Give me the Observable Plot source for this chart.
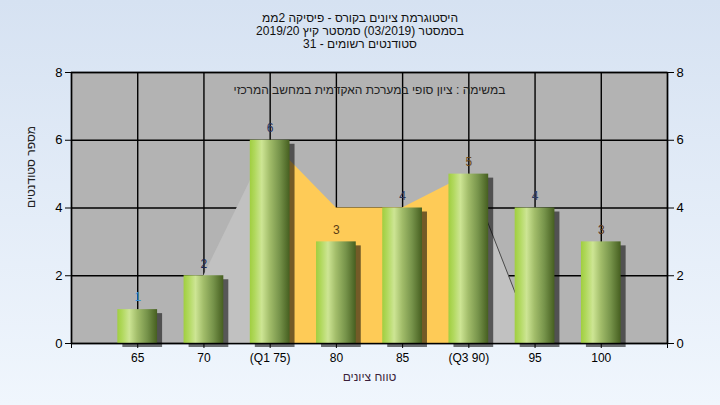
<!DOCTYPE html>
<html>
<head>
<meta charset="utf-8">
<script src="https://cdn.jsdelivr.net/npm/d3@7"></script>
<script src="https://cdn.jsdelivr.net/npm/@observablehq/plot@0.6"></script>
<style>
  html, body { margin: 0; padding: 0; }
  body { width: 720px; height: 405px; overflow: hidden;
         background: linear-gradient(#d6e2f2, #f0f6fd);
         font-family: "Liberation Sans", Arial, sans-serif; }
  #title { height: 55px; box-sizing: border-box; padding-top: 12px;
           text-align: center; font-size: 12px; line-height: 13px; color: #111; direction: rtl; }
</style>
</head>
<body>
<div id="title"></div>
<div id="chart"></div>
<script>
const titleLines = [
  "היסטוגרמת ציונים בקורס - פיסיקה 2ממ",
  "בסמסטר  (03/2019)  סמסטר קיץ 2019/20",
  "סטודנטים רשומים - 31"
];
const innerTitle = "במשימה : ציון סופי במערכת האקדמית במחשב המרכזי";
const xTitle = "טווח ציונים";
const yTitle = "מספר סטודנטים";

const categories = [65, 70, 75, 80, 85, 90, 95, 100];
const tickLabels = ["65", "70", "(Q1 75)", "80", "85", "(Q3 90)", "95", "100"];
const counts = [1, 2, 6, 3, 4, 5, 4, 3];
const labelColors = ["#3b8fd0", "#1e2a55", "#26325e", "#5a3c14", "#2e3658", "#6a4818", "#2e3c62", "#5a3414"];

// background area series
const areaCats = [70, 75, 80, 85, 90, 95, 100];
const areaVals = [2, 6, 4, 4, 5, 0, 0];

const xGrid = [60, 65, 70, 75, 80, 85, 90, 95, 100, 105];
const yTicks = [0, 2, 4, 6, 8];

const areaPts = areaCats.map((c, i) => ({x: c, y: areaVals[i]}));
const greyLeft = areaPts.filter(d => d.x <= 75);
const yellowMid = areaPts.filter(d => d.x >= 75 && d.x <= 90);
const greyRight = areaPts.filter(d => d.x >= 90);

const labelOf = new Map(categories.map((c, i) => [c, tickLabels[i]]));

document.getElementById("title").innerHTML = titleLines.map(t => `<div>${t}</div>`).join("");

const halfW = 1.5;

const svg = Plot.plot({
  width: 720,
  height: 350,
  marginTop: 17,
  marginBottom: 62,
  marginLeft: 71,
  marginRight: 53,
  style: {background: "transparent", fontFamily: "'Liberation Sans', Arial, sans-serif", fontSize: "12px", color: "#000"},
  x: {type: "linear", domain: [60, 105]},
  y: {type: "linear", domain: [0, 8]},
  color: {type: "identity"},
  marks: [
    Plot.frame({fill: "#b3b3b3", stroke: null}),
    Plot.gridX({ticks: xGrid, stroke: "#000", strokeOpacity: 1, strokeWidth: 1.4}),
    Plot.gridY({ticks: yTicks, stroke: "#000", strokeOpacity: 1, strokeWidth: 1.4}),
    Plot.areaY(greyLeft, {x: "x", y: "y", fill: "#c1c1c1"}),
    Plot.areaY(yellowMid, {x: "x", y: "y", fill: "#fecb57"}),
    Plot.areaY(greyRight, {x: "x", y: "y", fill: "#c1c1c1"}),
    Plot.lineY(greyRight, {x: "x", y: "y", stroke: "#4a4a4a", strokeWidth: 1}),
    Plot.text(counts, {x: (d, i) => categories[i], y: d => d, dy: -12, text: d => String(d),
      fill: (d, i) => labelColors[i], fontSize: 12}),
    Plot.rectY(counts, {x1: (d, i) => categories[i] - halfW, x2: (d, i) => categories[i] + halfW, y1: 0, y2: d => d,
      fill: "#000", fillOpacity: 0.55, dx: 5, dy: 4, ariaLabel: "barshadow"}),
    Plot.rectY(counts, {x1: (d, i) => categories[i] - halfW, x2: (d, i) => categories[i] + halfW, y1: 0, y2: d => d,
      fill: "url(#barGrad)"}),
    Plot.frame({stroke: "#000", strokeWidth: 1.4}),
    Plot.axisX({ticks: xGrid, tickFormat: d => labelOf.get(d) ?? "", tickSize: 5, tickPadding: 5, label: null, fontSize: 12}),
    Plot.axisY({anchor: "left", ticks: yTicks, tickSize: 6, tickPadding: 3, label: null, fontSize: 13}),
    Plot.axisY({anchor: "right", ticks: yTicks, tickSize: 6, tickPadding: 3, label: null, fontSize: 13}),
    Plot.text([innerTitle], {frameAnchor: "top", dy: 13, text: d => d, fill: "#222", fontSize: 12, ariaLabel: "rtltext"}),
    Plot.text([xTitle], {frameAnchor: "bottom", dy: 37, text: d => d, fill: "#3a1e3a", fontSize: 12, ariaLabel: "rtltext"}),
    Plot.text([yTitle], {frameAnchor: "left", dx: -40, rotate: -90, text: d => d, fill: "#222", fontSize: 12, ariaLabel: "rtltext"})
  ]
});

const s = d3.select(svg);
const defs = s.insert("defs", ":first-child");
const g = defs.append("linearGradient").attr("id", "barGrad").attr("x1", 0).attr("x2", 1).attr("y1", 0).attr("y2", 0);
[["0%", "#a0ce40"], ["12%", "#b0d85c"], ["30%", "#cde594"], ["50%", "#a2bd6a"], ["75%", "#76934a"], ["100%", "#465f20"]]
  .forEach(([o, c]) => g.append("stop").attr("offset", o).attr("stop-color", c));
const f = defs.append("filter").attr("id", "blur").attr("x", "-20%").attr("y", "-20%").attr("width", "140%").attr("height", "140%");
f.append("feGaussianBlur").attr("stdDeviation", 2);
s.selectAll('g[aria-label="barshadow"]').attr("filter", "url(#blur)");
s.selectAll('g[aria-label="rtltext"] text').style("direction", "rtl").attr("direction", "rtl");

document.getElementById("chart").appendChild(svg);
</script>
</body>
</html>
